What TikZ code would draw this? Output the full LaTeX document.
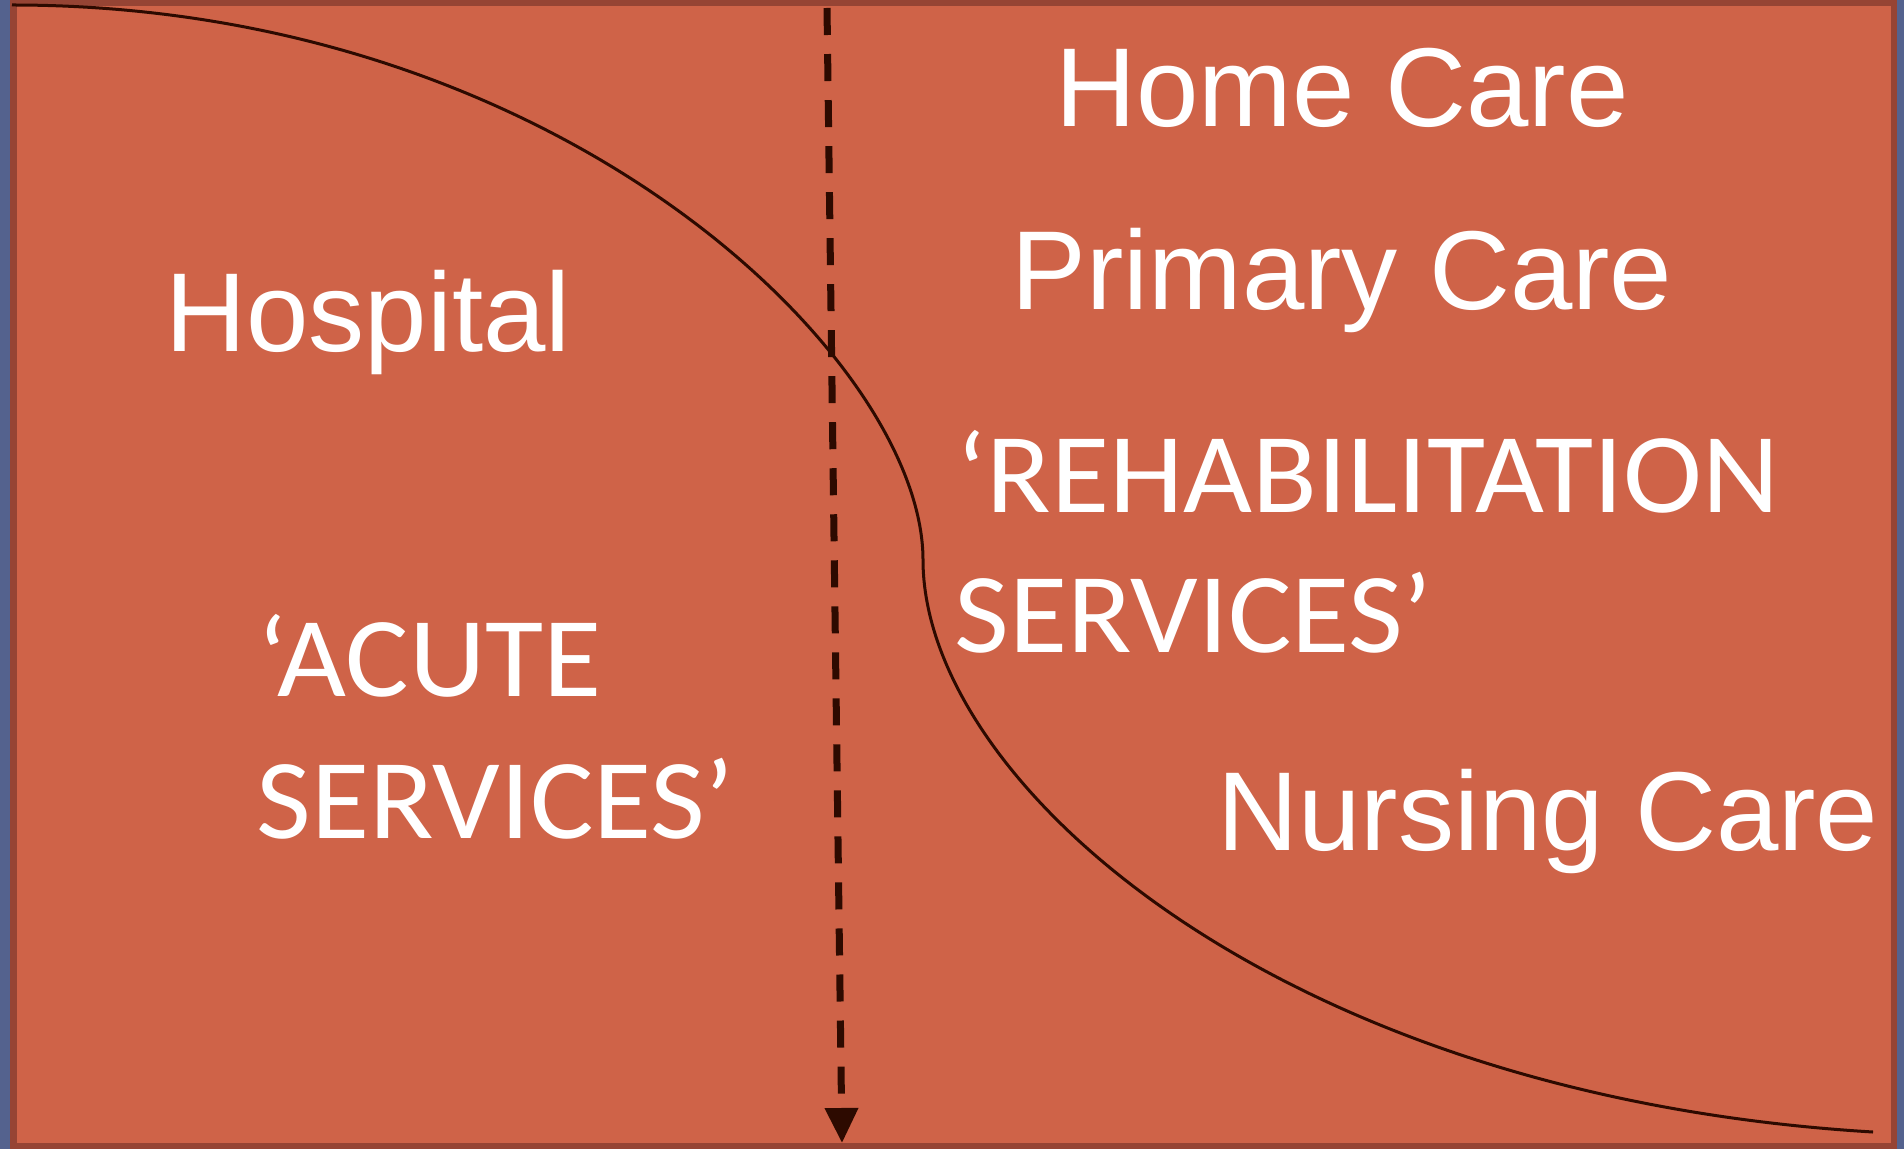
\documentclass[tikz,border=0pt]{standalone}
\usepackage{fontspec}
\setmainfont{Liberation Sans}
\newfontfamily\calibrilike[FakeStretch=1.045]{Carlito}
\usepackage{tikz}
\usetikzlibrary{arrows.meta, positioning}
\definecolor{slidered}{RGB}{207, 99, 72}
\definecolor{edgebrown}{RGB}{150, 68, 52}
\definecolor{slideblue}{RGB}{84, 98, 142}
\definecolor{inkdark}{RGB}{45, 10, 0}

\begin{document}
\begin{tikzpicture}[x=0.01cm, y=-0.01cm,
  place/.style={font=\fontsize{31.9}{38}\selectfont, text=white, inner sep=0pt, anchor=base},
  service/.style={font=\calibrilike\fontsize{32.4}{39}\selectfont, text=white, inner sep=0pt, anchor=base west}]
  \useasboundingbox (0,0) rectangle (1904,1149);

  % Slide background
  \fill[slideblue] (0,0) rectangle (1904,1149);
  \fill[edgebrown] (10,0) rectangle (1897,1149);
  \fill[slidered] (17,6) rectangle (1891,1143);

  % Care curve
  \draw[line width=0.03cm, inkdark] (12,5) .. controls (562,5) and (923,360) .. (923,560)
    .. controls (923,780) and (1273,1096) .. (1873,1132);

  % Dividing arrow
  \coordinate (divtop) at (827,8);
  \coordinate (divbot) at (842,1143);
  \draw[-{Triangle[length=0.35cm, width=0.32cm]}, line width=0.07cm, inkdark, dash pattern=on 0.27cm off 0.19cm] (divtop) -- (divbot);

  % Settings
  \node[place] (hospital) at (368,352) {Hospital};
  \node[place] (homecare) at (1342,127) {Home Care};
  \node[place] (primarycare) at (1342,310) {Primary Care};
  \node[place] (nursingcare) at (1548,850) {Nursing Care};

  % Services
  \node[service] (acute1) at (257,696) {‘ACUTE};
  \node[service] (acute2) at (256,838) {SERVICES’};
  \node[service] (rehab1) at (956,512) {‘REHABILITATION};
  \node[service] (rehab2) at (954,652) {SERVICES’};
\end{tikzpicture}
\end{document}
